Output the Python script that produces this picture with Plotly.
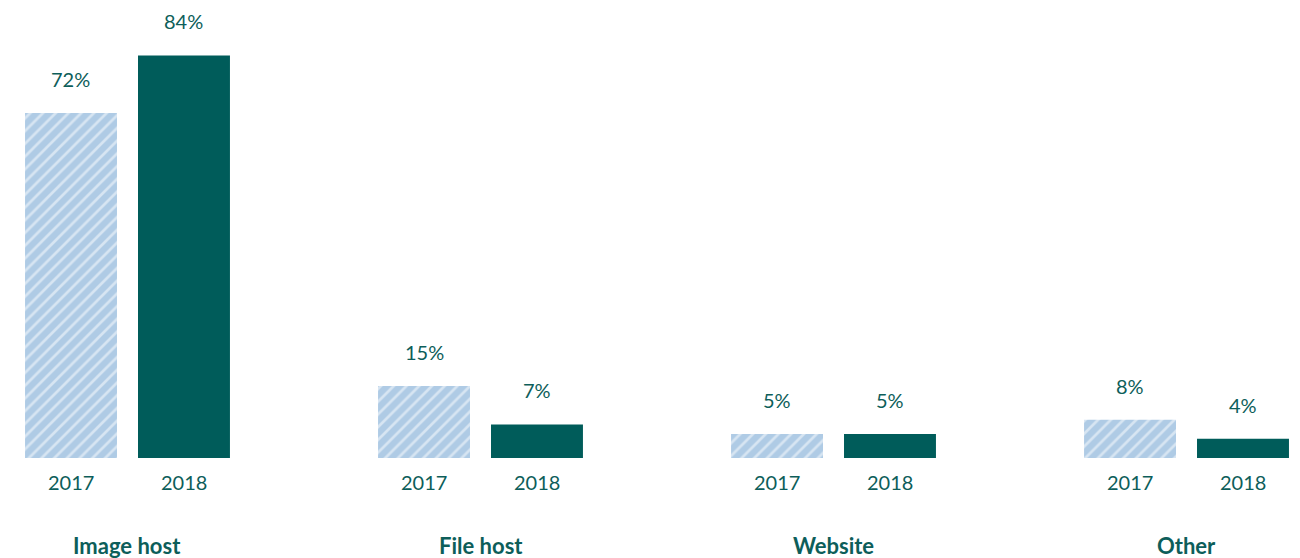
import plotly.graph_objects as go

categories = ["Image host", "File host", "Website", "Other"]
years = ["2017", "2018"]
values_2017 = [72, 15, 5, 8]
values_2018 = [84, 7, 5, 4]

TEAL = "#005c5a"
TEXT = "#0d5e5a"
LIGHT = "#afcbe5"
FONT = "Lato"

fig = go.Figure()
fig.add_trace(go.Bar(
    x=categories, y=values_2017, name=years[0],
    marker=dict(color=LIGHT, line=dict(width=0),
                pattern=dict(shape="/", bgcolor=LIGHT, fgcolor="white",
                             size=9, solidity=0.3)),
))
fig.add_trace(go.Bar(
    x=categories, y=values_2018, name=years[1],
    marker=dict(color=TEAL, line=dict(width=0)),
))

ann = []
shift = 56.5
for i, c in enumerate(categories):
    for vals, yr, xs in ((values_2017, years[0], -shift), (values_2018, years[1], shift)):
        ann.append(dict(x=c, y=vals[i], xref="x", yref="y", xshift=xs, yshift=34,
                        text=f"{vals[i]}%", showarrow=False, yanchor="middle",
                        font=dict(family=FONT, size=20, color=TEXT)))
        ann.append(dict(x=c, y=0, xref="x", yref="y", xshift=xs, yshift=-24,
                        text=yr, showarrow=False, yanchor="middle",
                        font=dict(family=FONT, size=20, color=TEXT)))
    ann.append(dict(x=c, y=0, xref="x", yref="y", yshift=-87,
                    text=f"<b>{c}</b>", showarrow=False, yanchor="middle",
                    font=dict(family=FONT, size=22, color=TEXT)))

fig.update_layout(
    width=1292, height=550,
    margin=dict(l=0, r=0, t=0, b=100),
    barmode="group", bargap=0.36, bargroupgap=0.186,
    plot_bgcolor="white", paper_bgcolor="white",
    showlegend=False,
    annotations=ann,
    xaxis=dict(type="category", range=[-0.3385, 3.3215], showticklabels=False,
               showgrid=False, zeroline=False, showline=False, ticks=""),
    yaxis=dict(range=[0, 93.9], visible=False, showgrid=False, zeroline=False),
)
fig.write_html("out.html")
